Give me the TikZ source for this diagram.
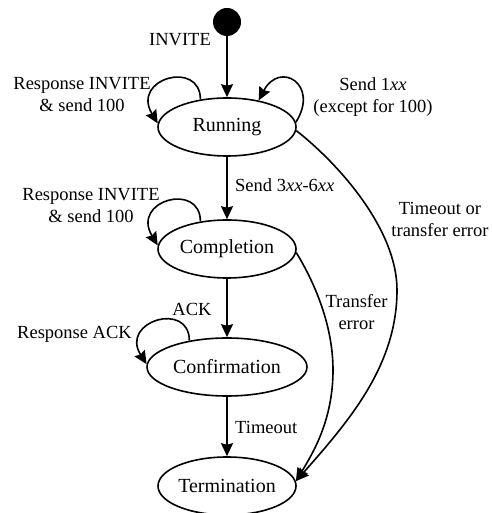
\documentclass[tikz,border=0pt]{standalone}
\usepackage{fontspec}
\setmainfont{Liberation Serif}
\usetikzlibrary{shapes.geometric,arrows.meta}
\begin{document}
\begin{tikzpicture}[x=1pt,y=1pt,
  state/.style={draw, ellipse, line width=1.6pt, inner sep=0pt,
    minimum width=138pt, minimum height=58pt,
    font=\fontsize{20}{24}\selectfont},
  trans/.style={line width=1.6pt, -{Stealth[length=13pt,width=12pt,inset=1.5pt]}},
  lbl/.style={font=\fontsize{18.5}{22}\selectfont, align=center, inner sep=0pt}]
\useasboundingbox (0,0) rectangle (491,513);

% states
\node[fill, circle, minimum size=28pt, inner sep=0pt] (init) at (227,491) {};
\node[state] (run) at (227,386) {Running};
\node[state] (comp) at (227,264) {Completion};
\node[state, minimum width=160pt] (conf) at (227,146) {Confirmation};
\node[state] (term) at (227,27) {Termination};

% main line of transitions
\draw[trans] (init) -- (run);
\draw[trans] (run) -- (comp);
\draw[trans] (comp) -- (conf);
\draw[trans] (conf) -- (term);

% self loops
\draw[trans] (run.134) .. controls +(0,40) and +(-27,45) .. (run.177);
\draw[trans] (run.4) .. controls +(24,38) and +(21,40) .. (run.40);
\draw[trans] (comp.134) .. controls +(0,40) and +(-27,45) .. (comp.177);
\draw[trans] (conf.145) .. controls +(0,40) and +(-27,43) .. (conf.178);

% error transitions to termination
\draw[trans] (run.-3) .. controls (340,348) and (397,283) .. (397,223)
  .. controls (397,148) and (350,93) .. (term.4);
\draw[trans] (comp.-3) .. controls (310,238) and (333,193) .. (333,143)
  .. controls (333,93) and (313,60) .. (term.4);

% labels
\node[lbl] (lInvite) at (180,473) {INVITE};
\node[lbl] (lRunLoop) at (82,418) {Response INVITE\\\& send 100};
\node[lbl] (lSend1) at (373,416) {Send 1\textit{xx}\\(except for 100)};
\node[lbl, anchor=west] (lSend3) at (235,328) {Send 3\textit{xx}-6\textit{xx}};
\node[lbl] (lCompLoop) at (91,307.5) {Response INVITE\\\& send 100};
\node[lbl] (lTimeoutOr) at (440,293.5) {Timeout or\\transfer error};
\node[lbl] (lTransfer) at (356.5,200.5) {Transfer\\error};
\node[lbl] (lAck) at (192,204) {ACK};
\node[lbl] (lRespAck) at (74.5,179) {Response ACK};
\node[lbl, anchor=west] (lTimeout) at (235,86) {Timeout};
\end{tikzpicture}
\end{document}
